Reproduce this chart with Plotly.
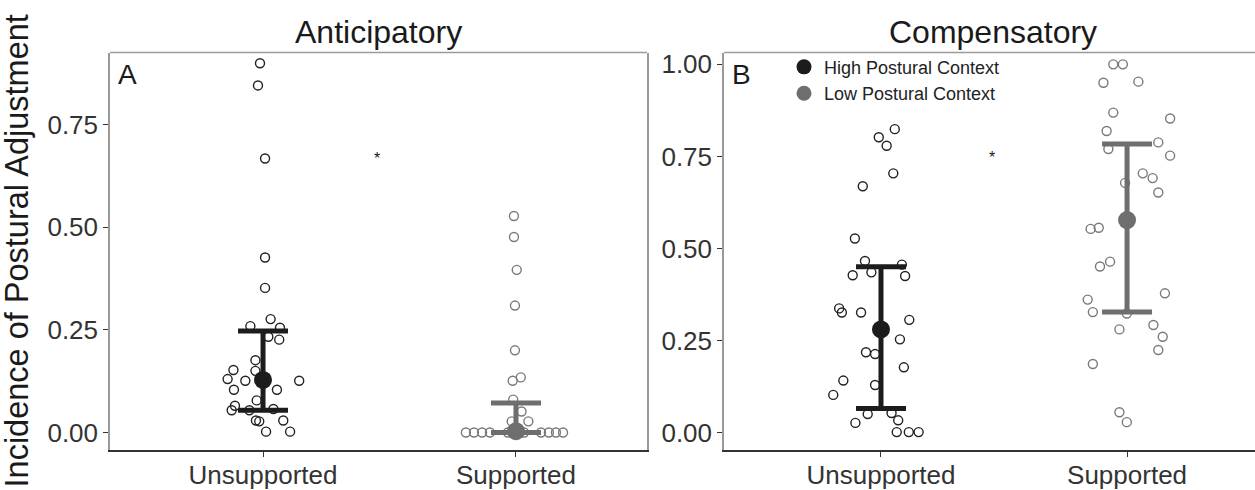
import plotly.graph_objects as go

# ---------------- data ----------------
categories = ["Unsupported", "Supported"]
cat_pos = [1, 2]

# Panel A (Anticipatory)
a_unsup_y = [0.899, 0.845, 0.667, 0.426, 0.352, 0.276, 0.259, 0.255, 0.226, 0.233,
             0.176, 0.150, 0.152, 0.130, 0.126, 0.126, 0.104, 0.104, 0.078, 0.065,
             0.054, 0.054, 0.057, 0.029, 0.027, 0.029, 0.002, 0.002]
a_unsup_jit = [-0.012, -0.020, 0.008, 0.008, 0.008, 0.030, -0.050, 0.067, 0.064, 0.021,
               -0.030, -0.030, -0.117, -0.140, -0.070, 0.143, -0.115, 0.055, -0.025, -0.111,
               -0.124, -0.054, 0.041, -0.028, -0.015, 0.080, 0.012, 0.107]
a_sup_y = [0.527, 0.476, 0.396, 0.309, 0.200, 0.126, 0.134, 0.080, 0.051, 0.027, 0.027,
           0.0, 0.0, 0.0, 0.0, 0.0, 0.0, 0.0, 0.0, 0.0, 0.0]
a_sup_jit = [-0.008, -0.008, 0.003, -0.004, -0.004, -0.013, 0.019, -0.011, 0.022, 0.049, -0.017,
             -0.198, -0.166, -0.134, -0.103, -0.032, 0.032, 0.099, 0.130, 0.158, 0.186]
a_mean = [0.128, 0.003]
a_low = [0.054, 0.0]
a_high = [0.247, 0.072]
a_star = (1.45, 0.677)

# Panel B (Compensatory)
b_unsup_y = [0.824, 0.802, 0.779, 0.704, 0.669, 0.527, 0.466, 0.456, 0.427, 0.435,
             0.425, 0.337, 0.326, 0.326, 0.306, 0.253, 0.218, 0.213, 0.177, 0.141,
             0.129, 0.102, 0.050, 0.053, 0.033, 0.026, 0.001, 0.001, 0.001]
b_unsup_jit = [0.056, -0.009, 0.023, 0.050, -0.074, -0.106, -0.065, 0.085, -0.115, -0.039,
               0.098, -0.170, -0.159, -0.081, 0.115, 0.077, -0.061, -0.024, 0.093, -0.153,
               -0.024, -0.194, -0.054, 0.043, 0.070, -0.104, 0.064, 0.113, 0.153]
b_sup_y = [1.0, 1.0, 0.950, 0.953, 0.869, 0.853, 0.819, 0.788, 0.770, 0.752,
           0.704, 0.691, 0.678, 0.652, 0.553, 0.556, 0.451, 0.464, 0.378, 0.361,
           0.327, 0.323, 0.292, 0.280, 0.260, 0.224, 0.186, 0.055, 0.028]
b_sup_jit = [-0.056, -0.017, -0.096, 0.046, -0.056, 0.175, -0.083, 0.127, -0.076, 0.175,
             0.064, 0.104, -0.008, 0.127, -0.148, -0.115, -0.110, -0.069, 0.154, -0.160,
             -0.139, -0.001, 0.107, -0.031, 0.145, 0.127, -0.139, -0.031, -0.001]
b_mean = [0.280, 0.577]
b_low = [0.065, 0.327]
b_high = [0.450, 0.784]
b_star = (1.45, 0.757)

legend_names = ["High Postural Context", "Low Postural Context"]
titles = ["Anticipatory", "Compensatory"]
panel_tags = ["A", "B"]
y_title = "Incidence of Postural Adjustment"

# ---------------- styles ----------------
FONT = "Liberation Sans, Arial, Helvetica, sans-serif"
C_HIGH = "#1c1c1c"
C_LOW = "#6e6e6e"
PT_COL = ["#222222", "#7a7a7a"]
MEAN_COL = [C_HIGH, C_LOW]

W, H = 1255, 490
dom_y = [1 - 451 / H, 1 - 50 / H]
dom_xa = [110 / W, 647 / W]
dom_xb = [724 / W, 1.0]

fig = go.Figure()


def add_panel(xa, ya, unsup_y, unsup_jit, sup_y, sup_jit, mean, low, high):
    for i, (ys, js) in enumerate([(unsup_y, unsup_jit), (sup_y, sup_jit)]):
        fig.add_trace(go.Scatter(
            x=[cat_pos[i] + j for j in js], y=ys, mode="markers",
            marker=dict(symbol="circle-open", size=9, color=PT_COL[i], line=dict(width=1.4)),
            xaxis=xa, yaxis=ya, showlegend=False, hoverinfo="skip"))
    for i in range(2):
        fig.add_trace(go.Scatter(
            x=[cat_pos[i]], y=[mean[i]], mode="markers",
            marker=dict(symbol="circle", size=18, color=MEAN_COL[i]),
            error_y=dict(type="data", symmetric=False,
                         array=[high[i] - mean[i]], arrayminus=[mean[i] - low[i]],
                         color=MEAN_COL[i], thickness=5, width=25),
            xaxis=xa, yaxis=ya, showlegend=False, hoverinfo="skip"))


add_panel("x", "y", a_unsup_y, a_unsup_jit, a_sup_y, a_sup_jit, a_mean, a_low, a_high)
add_panel("x2", "y2", b_unsup_y, b_unsup_jit, b_sup_y, b_sup_jit, b_mean, b_low, b_high)

# legend-only entries
for name, col in zip(legend_names, MEAN_COL):
    fig.add_trace(go.Scatter(x=[None], y=[None], mode="markers", name=name,
                             marker=dict(symbol="circle", size=15, color=col),
                             xaxis="x2", yaxis="y2", showlegend=True))

axis_common = dict(showgrid=False, zeroline=False, ticks="outside", ticklen=5,
                   tickwidth=1.3, tickcolor="#333333",
                   tickfont=dict(family=FONT, size=26, color="#333333"))

fig.update_layout(
    width=W, height=H, margin=dict(l=0, r=0, t=0, b=0),
    paper_bgcolor="white", plot_bgcolor="white",
    font=dict(family=FONT),
    xaxis=dict(domain=dom_xa, range=[0.395, 2.518], tickvals=cat_pos, ticktext=categories,
               showline=True, linecolor="#333333", linewidth=1.5, mirror=False, anchor="y",
               ticklabelstandoff=-4, **axis_common),
    yaxis=dict(domain=dom_y, range=[-0.0435, 0.925], tickvals=[0, 0.25, 0.5, 0.75],
               tickformat=".2f", showline=True, linecolor="#9a9a9a", linewidth=1.5,
               mirror=True, anchor="x", **axis_common),
    xaxis2=dict(domain=dom_xb, range=[0.362, 2.52], tickvals=cat_pos, ticktext=categories,
                showline=True, linecolor="#333333", linewidth=1.5, mirror=False, anchor="y2",
                ticklabelstandoff=-4, **axis_common),
    yaxis2=dict(domain=dom_y, range=[-0.0485, 1.032], tickvals=[0, 0.25, 0.5, 0.75, 1.0],
                tickformat=".2f", showline=True, linecolor="#9a9a9a", linewidth=1.5,
                mirror=False, anchor="x2", **axis_common),
    legend=dict(x=784 / W, y=1 - 46 / H, xanchor="left", yanchor="top",
                bgcolor="rgba(0,0,0,0)", font=dict(family=FONT, size=18, color="#222222"),
                itemsizing="trace", tracegroupgap=0),
    showlegend=True,
)

# top borders (gray)
for xd in (dom_xa, dom_xb):
    fig.add_shape(type="line", xref="paper", yref="paper", x0=xd[0], x1=xd[1],
                  y0=dom_y[1], y1=dom_y[1], line=dict(color="#9a9a9a", width=1.5))

ann = []
for t, xd in zip(titles, (dom_xa, (724 / W, 1261 / W))):
    ann.append(dict(text=t, x=(xd[0] + xd[1]) / 2, y=1 - 29 / H, xref="paper", yref="paper",
                    xanchor="center", yanchor="middle", showarrow=False,
                    font=dict(family=FONT, size=32, color="#1a1a1a")))
for tag, xd in zip(panel_tags, (dom_xa, dom_xb)):
    ann.append(dict(text=tag, x=xd[0] + 6 / W, y=dom_y[1] - 4 / H, xref="paper", yref="paper",
                    xanchor="left", yanchor="top", showarrow=False,
                    font=dict(family=FONT, size=28, color="#1a1a1a")))
ann.append(dict(text=y_title, x=17 / W, y=(dom_y[0] + dom_y[1]) / 2, xref="paper", yref="paper",
                xanchor="center", yanchor="middle", textangle=-90, showarrow=False,
                font=dict(family=FONT, size=32.5, color="#1a1a1a")))
for (sx, sy), xr, yr in ((a_star, "x", "y"), (b_star, "x2", "y2")):
    ann.append(dict(text="*", x=sx, y=sy, xref=xr, yref=yr, xanchor="center", yanchor="middle",
                    yshift=-4, showarrow=False, font=dict(family=FONT, size=16, color="#1a1a1a")))
fig.update_layout(annotations=ann)

fig.write_html("out.html", config={"displayModeBar": False},
               post_script="document.body.style.margin='0';document.body.style.overflow='hidden';")
